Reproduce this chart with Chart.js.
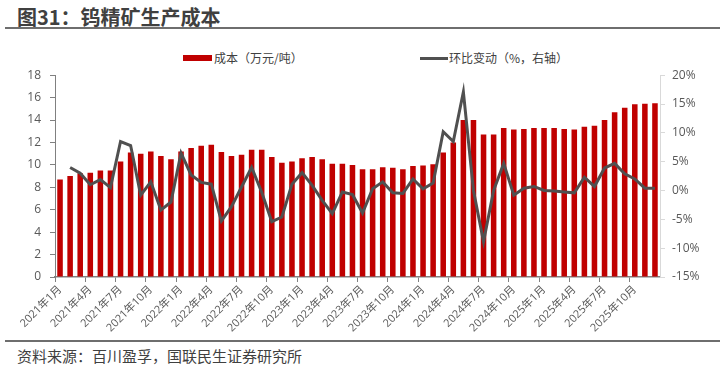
<!DOCTYPE html>
<html>
<head>
<meta charset="utf-8">
<script src="https://cdn.jsdelivr.net/npm/chart.js@4"></script>
<style>
  body { margin: 0; background: #fff; font-family: 'Open Sans', 'Noto Sans CJK SC', sans-serif; }
  #wrap { position: relative; width: 720px; height: 370px; overflow: hidden; }
  .title { position: absolute; left: 17px; top: 2px; font-family: 'Noto Sans CJK SC', sans-serif; font-weight: bold; font-size: 20px; color: #404040; }
  .rule { position: absolute; left: 5px; width: 715px; height: 2px; background: #6e6e6e; }
  .legend { position: absolute; font-size: 12px; color: #404040; line-height: 14px; font-family: 'Noto Sans CJK SC', sans-serif; }
  .swatch { position: absolute; }
  .source { position: absolute; left: 17px; top: 345px; font-family: 'Noto Sans CJK SC', sans-serif; font-size: 15px; color: #404040; }
  #box { position: absolute; left: 0; top: 59px; width: 720px; height: 279px; }
</style>
</head>
<body>
<div id="wrap">
  <div class="title">图31：钨精矿生产成本</div>
  <div class="rule" style="top:27px"></div>

  <div class="swatch" style="left:183px; top:55px; width:29px; height:6px; background:#c00000"></div>
  <div class="legend" style="left:214px; top:51px">成本（万元/吨）</div>
  <div class="swatch" style="left:420px; top:57px; width:28px; height:3px; background:#505050"></div>
  <div class="legend" style="left:449px; top:51px">环比变动（%，右轴）</div>

  <div id="box"><canvas id="myChart"></canvas></div>

  <div class="rule" style="top:340px"></div>
  <div class="source">资料来源：百川盈孚，国联民生证券研究所</div>
</div>

<script>
const months = [
  "2021年1月", "2021年2月", "2021年3月", "2021年4月", "2021年5月", "2021年6月",
  "2021年7月", "2021年8月", "2021年9月", "2021年10月", "2021年11月", "2021年12月",
  "2022年1月", "2022年2月", "2022年3月", "2022年4月", "2022年5月", "2022年6月",
  "2022年7月", "2022年8月", "2022年9月", "2022年10月", "2022年11月", "2022年12月",
  "2023年1月", "2023年2月", "2023年3月", "2023年4月", "2023年5月", "2023年6月",
  "2023年7月", "2023年8月", "2023年9月", "2023年10月", "2023年11月", "2023年12月",
  "2024年1月", "2024年2月", "2024年3月", "2024年4月", "2024年5月", "2024年6月",
  "2024年7月", "2024年8月", "2024年9月", "2024年10月", "2024年11月", "2024年12月",
  "2025年1月", "2025年2月", "2025年3月", "2025年4月", "2025年5月", "2025年6月",
  "2025年7月", "2025年8月", "2025年9月", "2025年10月", "2025年11月", "2025年12月"
];

// 成本（万元/吨）
const cost = [
  8.7, 9.0, 9.25, 9.3, 9.5, 9.5, 10.3, 11.1, 11.0, 11.2, 10.8, 10.5,
  11.2, 11.5, 11.7, 11.8, 11.15, 10.8, 10.9, 11.35, 11.35, 10.7, 10.2, 10.3,
  10.6, 10.7, 10.5, 10.1, 10.1, 10.0, 9.6, 9.6, 9.8, 9.75, 9.6, 9.9,
  9.95, 10.05, 11.1, 12.0, 14.0, 14.0, 12.7, 12.7, 13.3, 13.15, 13.2, 13.3,
  13.3, 13.3, 13.2, 13.15, 13.4, 13.5, 14.0, 14.7, 15.1, 15.4, 15.45, 15.5
];

// 环比变动（%）
const mom = [
  null, 4.0, 3.0, 1.0, 1.9, 0.5, 8.5, 7.8, -0.8, 1.5, -3.4, -2.0,
  6.5, 2.7, 1.4, 1.1, -5.3, -2.8, 0.6, 4.0, -0.3, -5.4, -4.6, 1.1,
  3.1, 0.9, -1.7, -4.0, -0.25, -0.7, -3.9, 0.3, 1.5, -0.4, -0.5, 2.0,
  0.3, 1.3, 10.2, 8.5, 17.1, 0.0, -8.9, 0.0, 4.7, -0.8, 0.4, 0.7,
  0.0, -0.1, -0.25, -0.4, 2.3, 0.7, 3.9, 4.7, 2.9, 2.0, 0.4, 0.4
];

const tickFont = { family: "'Open Sans', 'Noto Sans CJK SC', sans-serif", size: 12 };

let ctx = document.getElementById('myChart').getContext('2d');

let costChart = new Chart(ctx, {
  type: 'bar',
  data: {
    labels: months,
    datasets: [{
      type: 'line',
      label: "环比变动（%，右轴）",
      data: mom,
      yAxisID: 'y2',
      borderColor: "#505050",
      borderWidth: 3,
      pointRadius: 0,
      tension: 0,
      order: 0
    }, {
      label: "成本（万元/吨）",
      data: cost,
      yAxisID: 'y',
      backgroundColor: "#c00000",
      barPercentage: 0.55,
      categoryPercentage: 1.0,
      order: 1
    }]
  },
  options: {
    responsive: true,
    maintainAspectRatio: false,
    animation: false,
    layout: { padding: { top: 8, left: 0, right: 0, bottom: 0 } },
    plugins: {
      legend: { display: false },
      tooltip: { enabled: false }
    },
    scales: {
      x: {
        offset: true,
        afterFit: (s) => { s.height = 61; },
        grid: {
          offset: true,
          drawOnChartArea: false,
          tickLength: 5,
          tickColor: (c) => c.index % 3 === 0 ? '#808080' : 'rgba(0,0,0,0)'
        },
        border: { color: '#808080', width: 1.5 },
        ticks: {
          autoSkip: false,
          maxRotation: 45,
          minRotation: 45,
          padding: 1,
          color: '#595959',
          font: { family: tickFont.family, size: 11 },
          callback: function (v, i) { return i % 3 === 0 ? months[i] : ''; }
        }
      },
      y: {
        position: 'left',
        min: 0,
        max: 18,
        afterFit: (s) => { s.width = 55; },
        grid: { drawOnChartArea: false, tickLength: 5, tickColor: '#808080' },
        border: { color: '#808080', width: 1 },
        ticks: { stepSize: 2, padding: 9, color: '#595959', font: tickFont }
      },
      y2: {
        position: 'right',
        min: -15,
        max: 20,
        afterFit: (s) => { s.width = 60; },
        grid: { drawOnChartArea: false, tickLength: 5, tickColor: '#d9d9d9' },
        border: { color: '#d9d9d9', width: 1 },
        ticks: {
          stepSize: 5,
          padding: 7,
          color: '#595959',
          font: tickFont,
          callback: (v) => v + '%'
        }
      }
    }
  }
});
</script>
</body>
</html>
